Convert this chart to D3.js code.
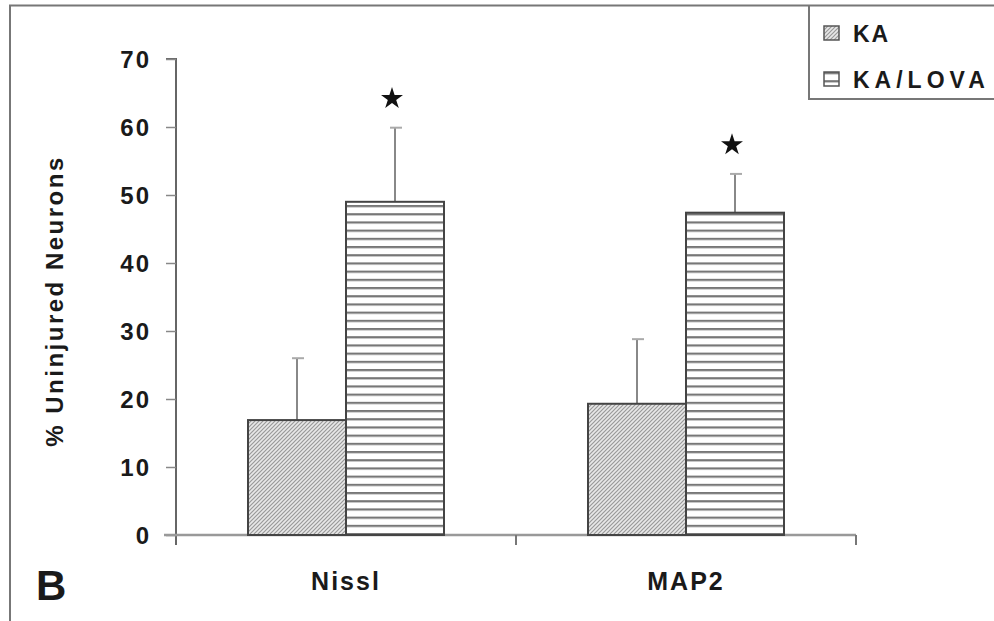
<!DOCTYPE html>
<html>
<head>
<meta charset="utf-8">
<script src="https://cdn.jsdelivr.net/npm/d3@7"></script>
<style>
  body { margin: 0; background: #fff; }
  text { font-family: "Liberation Sans", Arial, sans-serif; fill: #1a1a1a; }
</style>
</head>
<body>
<div id="chart"></div>
<script>
// data
var categories = ["Nissl", "MAP2"];
var groups = ["KA", "KA/LOVA"];
var kaMeans = [16.9, 19.3];
var kaErr = [9.1, 9.5];
var lovaMeans = [49.0, 47.4];
var lovaErr = [10.9, 5.7];
var significant = [true, true];
var yTicks = [0, 10, 20, 30, 40, 50, 60, 70];

var width = 994, height = 621;
var margin = {top: 59, right: 138, bottom: 86, left: 176};

var svg = d3.select("#chart")
  .append("svg")
    .attr("width", width)
    .attr("height", height);

var defs = svg.append("defs");

// diagonal hatch for KA
var p1 = defs.append("pattern")
    .attr("id", "hatchKA")
    .attr("patternUnits", "userSpaceOnUse")
    .attr("width", 4)
    .attr("height", 4);
p1.append("rect").attr("width", 4).attr("height", 4).attr("fill", "#e8e8e8");
p1.append("path")
    .attr("d", "M-1,1 l2,-2 M0,4 l4,-4 M3,5 l2,-2")
    .attr("stroke", "#999")
    .attr("stroke-width", 1.2);

// horizontal lines for KA/LOVA
var p2 = defs.append("pattern")
    .attr("id", "hatchLOVA")
    .attr("patternUnits", "userSpaceOnUse")
    .attr("width", 8)
    .attr("height", 8.2);
p2.append("rect").attr("width", 8).attr("height", 8.2).attr("fill", "#fff");
p2.append("rect").attr("y", 0).attr("width", 8).attr("height", 2.2).attr("fill", "#777");

var fills = {"KA": "url(#hatchKA)", "KA/LOVA": "url(#hatchLOVA)"};

// figure frame and legend box
svg.append("path")
    .attr("d", "M10,621 V5.5 H994")
    .attr("fill", "none")
    .attr("stroke", "#777")
    .attr("stroke-width", 2);
svg.append("path")
    .attr("d", "M809,5 V99 H994")
    .attr("fill", "none")
    .attr("stroke", "#777")
    .attr("stroke-width", 2);

var y = d3.scaleLinear()
  .domain([0, 70])
  .range([height - margin.bottom, margin.top]);

var x = d3.scaleBand()
  .domain(categories)
  .range([margin.left, width - margin.right])
  .padding(0);

var xSub = d3.scaleBand()
  .domain(groups)
  .range([-98, 98])
  .padding(0);

// Y axis
var yAxis = svg.append("g")
    .attr("transform", "translate(" + margin.left + ",0)")
    .call(d3.axisLeft(y).tickValues(yTicks).tickSize(10).tickPadding(15).tickFormat(d3.format("d")));
yAxis.select(".domain").attr("stroke", "#666").attr("stroke-width", 2)
    .attr("d", "M-10," + y(70) + "H0V" + (y(0) + 10));
yAxis.selectAll(".tick line").attr("stroke", "#888").attr("stroke-width", 1.5);
yAxis.selectAll(".tick text")
    .style("font-size", "24px")
    .style("font-weight", "bold")
    .attr("letter-spacing", "2px")
    .attr("dy", "0.36em");

// X axis
var xAxis = svg.append("g")
    .attr("transform", "translate(0," + y(0) + ")");
xAxis.append("line")
    .attr("x1", margin.left - 12).attr("x2", width - margin.right)
    .attr("stroke", "#999").attr("stroke-width", 2.5);
xAxis.selectAll(".xtick")
    .data([x.range()[0] + x.bandwidth(), x.range()[1]])
    .enter().append("line")
    .attr("x1", function(d) { return d; })
    .attr("x2", function(d) { return d; })
    .attr("y1", 0).attr("y2", 10)
    .attr("stroke", "#777").attr("stroke-width", 2);

svg.append("g")
  .selectAll("text")
  .data(categories)
  .enter().append("text")
    .attr("x", function(d) { return x(d) + x.bandwidth() / 2; })
    .attr("y", 590)
    .attr("text-anchor", "middle")
    .attr("letter-spacing", "2px")
    .style("font-size", "25px")
    .style("font-weight", "bold")
    .text(function(d) { return d; });

// bars
var rows = [];
categories.forEach(function(c, i) {
  rows.push({cat: c, group: "KA", v: kaMeans[i], e: kaErr[i], star: false});
  rows.push({cat: c, group: "KA/LOVA", v: lovaMeans[i], e: lovaErr[i], star: significant[i]});
});

function cx(d) { return x(d.cat) + x.bandwidth() / 2 + xSub(d.group); }

// error bars (upper only)
var err = svg.append("g");
err.selectAll("line.stem")
  .data(rows)
  .enter().append("line")
    .attr("x1", function(d) { return cx(d) + xSub.bandwidth() / 2; })
    .attr("x2", function(d) { return cx(d) + xSub.bandwidth() / 2; })
    .attr("y1", function(d) { return y(d.v); })
    .attr("y2", function(d) { return y(d.v + d.e); })
    .attr("stroke", "#888")
    .attr("stroke-width", 2);
err.selectAll("line.cap")
  .data(rows)
  .enter().append("line")
    .attr("x1", function(d) { return cx(d) + xSub.bandwidth() / 2 - 5; })
    .attr("x2", function(d) { return cx(d) + xSub.bandwidth() / 2 + 7; })
    .attr("y1", function(d) { return y(d.v + d.e); })
    .attr("y2", function(d) { return y(d.v + d.e); })
    .attr("stroke", "#aaa")
    .attr("stroke-width", 2);

svg.append("g")
  .selectAll("rect")
  .data(rows)
  .enter().append("rect")
    .attr("x", cx)
    .attr("y", function(d) { return y(d.v); })
    .attr("width", xSub.bandwidth())
    .attr("height", function(d) { return y(0) - y(d.v); })
    .attr("fill", function(d) { return fills[d.group]; })
    .attr("stroke", "#444")
    .attr("stroke-width", 2);

// significance stars
svg.append("g")
  .selectAll("path")
  .data(rows.filter(function(d) { return d.star; }))
  .enter().append("path")
    .attr("d", d3.symbol().type(d3.symbolStar).size(150))
    .attr("transform", function(d) {
      return "translate(" + (cx(d) + xSub.bandwidth() / 2 - 3) + "," + (y(d.v + d.e) - 29) + ")";
    })
    .attr("fill", "#111");

// y axis title
svg.append("text")
    .attr("transform", "translate(63,301) rotate(-90)")
    .attr("text-anchor", "middle")
    .attr("letter-spacing", "2.5px")
    .style("font-size", "24px")
    .style("font-weight", "bold")
    .text("% Uninjured Neurons");

// panel letter
svg.append("text")
    .attr("x", 36)
    .attr("y", 600)
    .style("font-size", "42px")
    .style("font-weight", "bold")
    .text("B");

// legend
var legend = svg.append("g")
  .selectAll("g")
  .data(groups)
  .enter().append("g")
    .attr("transform", function(d, i) { return "translate(824," + (26 + i * 46) + ")"; });
legend.append("rect")
    .attr("width", 15).attr("height", 14)
    .attr("fill", function(d) { return fills[d]; })
    .attr("stroke", "#555")
    .attr("stroke-width", 1.5);
legend.append("text")
    .attr("x", 29)
    .attr("y", 16)
    .attr("letter-spacing", function(d, i) { return i ? "5px" : "2px"; })
    .style("font-size", "23px")
    .style("font-weight", "bold")
    .text(function(d) { return d; });
</script>
</body>
</html>
